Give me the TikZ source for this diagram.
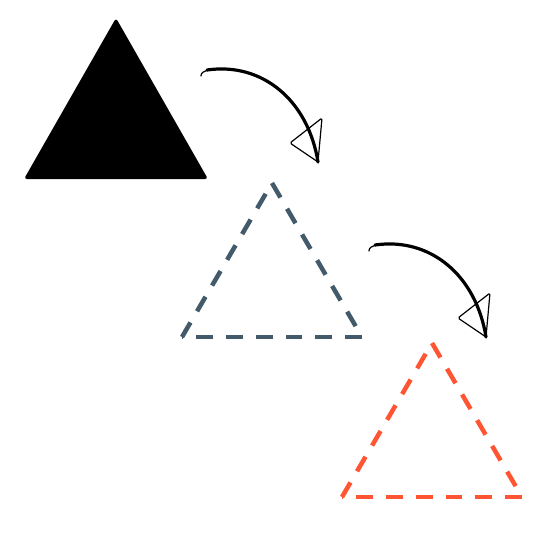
\documentclass[tikz,border=0pt]{standalone}
\usetikzlibrary{calc}
\definecolor{slate}{HTML}{435A6B}
\definecolor{tomato}{HTML}{FF5533}
\begin{document}
\begin{tikzpicture}[x=1pt,y=-1pt,
  dtri/.style={line width=4.5pt,dash pattern=on 16.8pt off 13pt},
  curvearrow/.style={line width=3.2pt,line cap=round},
  headtri/.style={line width=1.2pt,line join=round,rounded corners=1.5pt}]
\useasboundingbox (0,0) rectangle (550,550);
% solid triangle
\fill[black,rounded corners=3pt] (116,18) -- (208,179) -- (24,179) -- cycle;
% dashed triangles, each edge dashed from its own start
\coordinate (t1) at (272,183); \coordinate (r1) at (362,337); \coordinate (l1) at (182,337);
\coordinate (t2) at (432,343); \coordinate (r2) at (522,497); \coordinate (l2) at (342,497);
\draw[dtri,slate] (t1) -- (r1);
\draw[dtri,slate] (r1) -- (l1);
\draw[dtri,slate] (l1) -- (t1);
\draw[dtri,tomato] (t2) -- (r2);
\draw[dtri,tomato] (r2) -- (l2);
\draw[dtri,tomato] (l2) -- (t2);
% arrows
\foreach \dx/\dy/\n in {0/0/a, 168/175/b}{
  \begin{scope}[shift={(\dx,\dy)}]
    \coordinate (\n s) at (201,76);
    \coordinate (\n e) at (318,162);
    \draw[line width=1.2pt,line cap=round] (\n s) .. controls (201,73) and (203,71) .. (210,70);
    \draw[curvearrow] (207,70) .. controls (262,62) and (308,100) .. (\n e);
    \draw[headtri] (\n e) -- (290,143) -- (322,118) -- cycle;
  \end{scope}
}
\end{tikzpicture}
\end{document}
